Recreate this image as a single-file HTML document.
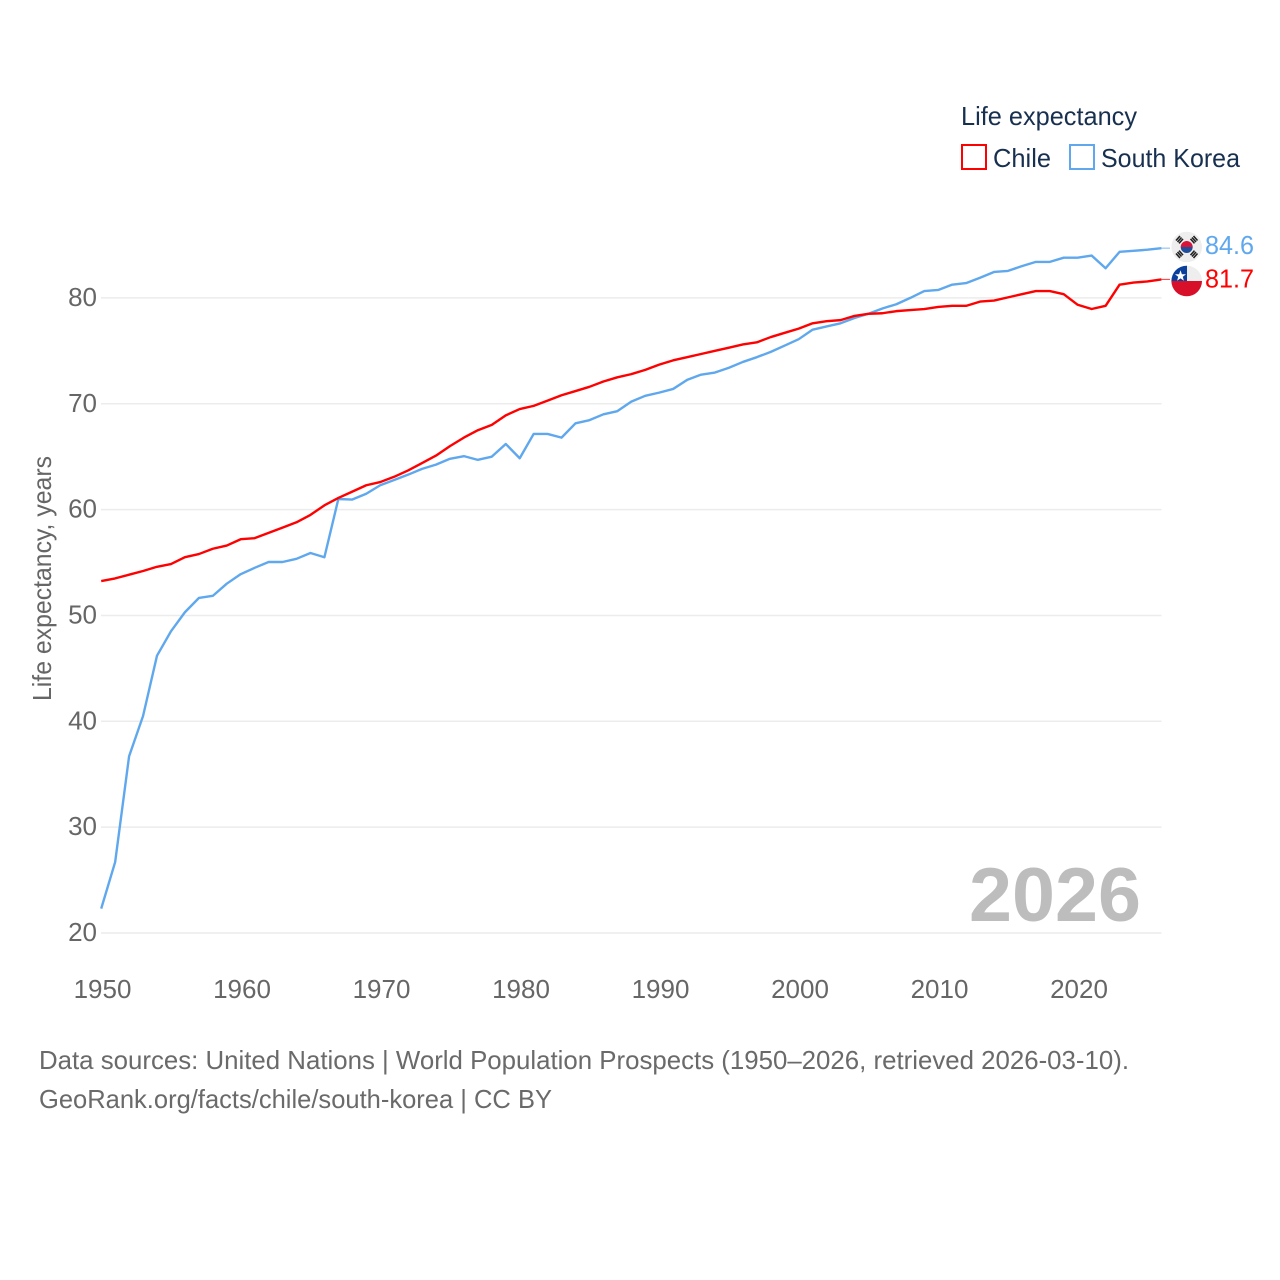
<!DOCTYPE html>
<html lang="en">
<head>
<meta charset="utf-8">
<title>Life expectancy: Chile vs South Korea</title>
<style>
html,body{margin:0;padding:0;background:#fff;width:1280px;height:1280px;overflow:hidden}
svg{display:block}
text{font-family:"Liberation Sans",sans-serif}
.tick{font-size:26px;fill:#666}
.leg{font-size:26px;fill:#18304f}
.foot{font-size:26px;fill:#6a6a6a}
</style>
</head>
<body>
<svg id="chart" width="1280" height="1280" viewBox="0 0 1280 1280" xmlns="http://www.w3.org/2000/svg">
  <defs>
    <clipPath id="clip-kr"><circle cx="1186.7" cy="247" r="15.3"/></clipPath>
    <clipPath id="clip-cl"><circle cx="1186.7" cy="281" r="15.3"/></clipPath>
  </defs>
  <g id="grid"></g>
  <g id="yticks"></g>
  <g id="xticks"></g>
  <text transform="translate(51,701) rotate(-90)" font-size="26" fill="#666" textLength="245" lengthAdjust="spacingAndGlyphs">Life expectancy, years</text>

  <text x="969" y="921" font-size="76" font-weight="bold" fill="#bdbdbd" textLength="172" lengthAdjust="spacingAndGlyphs">2026</text>

  <g id="series"></g>

  <g clip-path="url(#clip-kr)">
    <rect x="1171" y="231" width="32" height="32" fill="#eeeeee"/>
    <path d="M1180.7 247a6 6 0 0 1 12 0z" fill="#d8143a"/>
    <path d="M1180.7 247a6 6 0 0 0 12 0z" fill="#1f4f9c"/>
    <g stroke="#222" stroke-width="1.6" fill="none">
      <path d="M1176 240.5l4-4.5M1177.5 242l4-4.5M1179 243.4l4-4.5"/>
      <path d="M1197.5 240.5l-4-4.5M1196 242l-4-4.5M1194.5 243.4l-4-4.5"/>
      <path d="M1176 253.5l4 4.5M1177.5 252l4 4.5M1179 250.6l4 4.5"/>
      <path d="M1197.5 253.5l-4 4.5M1196 252l-4 4.5M1194.5 250.6l-4 4.5"/>
    </g>
  </g>
  <g clip-path="url(#clip-cl)">
    <rect x="1171" y="265" width="32" height="17" fill="#eeeeee"/>
    <rect x="1171" y="265" width="16" height="17" fill="#0b3f9c"/>
    <rect x="1171" y="281" width="32" height="16" fill="#d80f28"/>
    <polygon points="1180.5,270.3 1181.9,274.2 1186,274.3 1182.8,276.8 1183.9,280.7 1180.5,278.4 1177.1,280.7 1178.2,276.8 1175,274.3 1179.1,274.2" fill="#fff"/>
  </g>

  <g>
    <text class="leg" x="961" y="125" textLength="176" lengthAdjust="spacingAndGlyphs">Life expectancy</text>
    <rect x="962" y="145" width="24" height="24" fill="#fff" stroke="#ff0000" stroke-width="2"/>
    <text class="leg" x="993" y="167" textLength="58" lengthAdjust="spacingAndGlyphs">Chile</text>
    <rect x="1070" y="145" width="24" height="24" fill="#fff" stroke="#5fa8ee" stroke-width="2"/>
    <text class="leg" x="1101" y="167" textLength="139" lengthAdjust="spacingAndGlyphs">South Korea</text>
  </g>

  <text class="foot" x="39" y="1069" textLength="1090" lengthAdjust="spacingAndGlyphs">Data sources: United Nations | World Population Prospects (1950–2026, retrieved 2026-03-10).</text>
  <text class="foot" x="39" y="1108" textLength="513" lengthAdjust="spacingAndGlyphs">GeoRank.org/facts/chile/south-korea | CC BY</text>
</svg>
<script>
const years = [1950,1951,1952,1953,1954,1955,1956,1957,1958,1959,1960,1961,1962,1963,1964,1965,1966,1967,1968,1969,1970,1971,1972,1973,1974,1975,1976,1977,1978,1979,1980,1981,1982,1983,1984,1985,1986,1987,1988,1989,1990,1991,1992,1993,1994,1995,1996,1997,1998,1999,2000,2001,2002,2003,2004,2005,2006,2007,2008,2009,2010,2011,2012,2013,2014,2015,2016,2017,2018,2019,2020,2021,2022,2023,2024,2025,2026];
const chileValues = [53.25,53.5,53.85,54.2,54.6,54.85,55.5,55.8,56.3,56.6,57.2,57.3,57.8,58.3,58.8,59.5,60.4,61.1,61.7,62.3,62.6,63.1,63.7,64.4,65.1,66,66.8,67.5,68,68.9,69.5,69.8,70.3,70.8,71.2,71.6,72.1,72.5,72.8,73.2,73.7,74.1,74.4,74.7,75,75.3,75.6,75.8,76.3,76.7,77.1,77.6,77.8,77.9,78.3,78.5,78.55,78.75,78.85,78.95,79.15,79.25,79.25,79.65,79.75,80.05,80.35,80.65,80.65,80.35,79.35,78.95,79.25,81.25,81.45,81.55,81.75];
const koreaValues = [22.3,26.7,36.7,40.5,46.2,48.5,50.3,51.65,51.85,53,53.9,54.5,55.05,55.05,55.35,55.9,55.5,61,60.95,61.5,62.3,62.8,63.3,63.85,64.25,64.8,65.05,64.7,65,66.2,64.85,67.15,67.15,66.8,68.15,68.45,69,69.3,70.2,70.75,71.05,71.4,72.25,72.75,72.95,73.4,73.95,74.4,74.9,75.5,76.1,77,77.3,77.6,78.1,78.5,79,79.4,80,80.65,80.75,81.25,81.4,81.9,82.45,82.55,83,83.4,83.4,83.8,83.8,84,82.8,84.35,84.45,84.55,84.7];
const yTickValues = [20,30,40,50,60,70,80];
const xTickValues = [1950,1960,1970,1980,1990,2000,2010,2020];
const endLabels = ["81.7","84.6"];

const NS = "http://www.w3.org/2000/svg";
function xScale(year){ return 101.2 + (year - 1950) * 13.95; }
function yScale(v){ return 933 - (v - 20) * 10.585; }
function make(tag, attrs, parent){
  const el = document.createElementNS(NS, tag);
  for (const k in attrs) el.setAttribute(k, attrs[k]);
  parent.appendChild(el);
  return el;
}

const gridG = document.getElementById('grid');
const yG = document.getElementById('yticks');
yTickValues.forEach(function(v){
  const line = make('line', {x1:101, x2:1161.5, y1:yScale(v), y2:yScale(v), stroke:'#ececec', 'stroke-width':1.5}, gridG);
  
  
  const t = make('text', {x:97, y:yScale(v)+8, 'text-anchor':'end', class:'tick'}, yG);
  
  
  t.textContent = v;
});

const xG = document.getElementById('xticks');
xTickValues.forEach(function(yr){
  const t = make('text', {x:xScale(yr)+1.3, y:998, 'text-anchor':'middle', class:'tick'}, xG);
  
  
  t.textContent = yr;
});

function pathFor(vals){
  return vals.map(function(v,i){ return (i ? 'L' : 'M') + xScale(years[i]).toFixed(2) + ' ' + yScale(v).toFixed(2); }).join('');
}

const sG = document.getElementById('series');
const koreaLine = make('path', {d:pathFor(koreaValues), fill:'none', stroke:'#5fa8ee', 'stroke-width':2.4, 'stroke-linejoin':'round'}, sG);


const chileLine = make('path', {d:pathFor(chileValues), fill:'none', stroke:'#ff0000', 'stroke-width':2.4, 'stroke-linejoin':'round'}, sG);



const lastKorea = koreaValues[koreaValues.length-1];
const lastChile = chileValues[chileValues.length-1];
const lastX = xScale(years[years.length-1]);

const koreaConn = make('line', {x1:lastX, x2:1170, y1:yScale(lastKorea), y2:yScale(lastKorea), stroke:'#5fa8ee', 'stroke-width':1, opacity:0.8}, sG);


const chileConn = make('line', {x1:lastX, x2:1170, y1:yScale(lastChile), y2:yScale(lastChile), stroke:'#ff0000', 'stroke-width':1, opacity:0.8}, sG);



const koreaEnd = make('text', {x:1205, y:yScale(lastKorea)+6, 'font-size':26, fill:'#5fa8ee', textLength:49, lengthAdjust:'spacingAndGlyphs'}, sG);


koreaEnd.textContent = endLabels[1];
const chileEnd = make('text', {x:1205, y:yScale(lastChile)+8, 'font-size':26, fill:'#ff0000', textLength:49, lengthAdjust:'spacingAndGlyphs'}, sG);


chileEnd.textContent = endLabels[0];
</script>
</body>
</html>
